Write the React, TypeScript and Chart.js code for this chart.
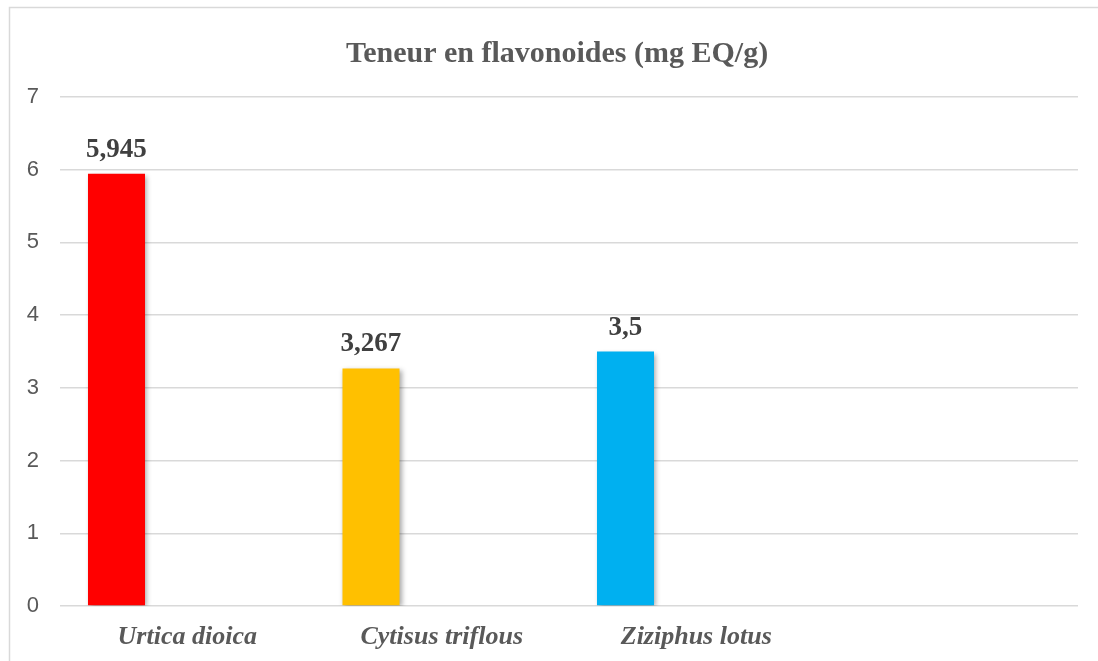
import React, { useEffect, useRef } from "react";
import { Chart, registerables } from "chart.js";

Chart.register(...registerables);

const categories = ["Urtica dioica", "Cytisus triflous", "Ziziphus lotus", ""];
const values = [5.945, 3.267, 3.5, null];
const valueLabels = ["5,945", "3,267", "3,5", ""];
const barColors = ["#FF0000", "#FFC000", "#00B0F0", "#FFFFFF"];
const yTicks = [0, 1, 2, 3, 4, 5, 6, 7];
const titleText = "Teneur en flavonoides (mg EQ/g)";

const framePlugin = {
  id: "frame",
  beforeDraw(chart: any) {
    const ctx = chart.ctx;
    ctx.save();
    ctx.fillStyle = "#ffffff";
    ctx.fillRect(0, 0, chart.width, chart.height);
    ctx.strokeStyle = "#D9D9D9";
    ctx.lineWidth = 1.5;
    ctx.beginPath();
    ctx.moveTo(9.5, chart.height);
    ctx.lineTo(9.5, 7.5);
    ctx.lineTo(chart.width, 7.5);
    ctx.stroke();
    ctx.font = "bold 30px 'Liberation Serif', 'Times New Roman', serif";
    ctx.fillStyle = "#595959";
    ctx.textAlign = "center";
    ctx.textBaseline = "alphabetic";
    ctx.fillText(titleText, 557, 62);
    ctx.restore();
  },
};

const shadowPlugin = {
  id: "barShadow",
  beforeDatasetsDraw(chart: any) {
    const ctx = chart.ctx;
    ctx.save();
    ctx.shadowColor = "rgba(0,0,0,0.35)";
    ctx.shadowBlur = 5;
    ctx.shadowOffsetX = 2;
    ctx.shadowOffsetY = 2;
  },
  afterDatasetsDraw(chart: any) {
    chart.ctx.restore();
  },
};

const labelPlugin = {
  id: "valueLabels",
  afterDatasetsDraw(chart: any) {
    const ctx = chart.ctx;
    const meta = chart.getDatasetMeta(0);
    ctx.save();
    ctx.font = "bold 27px 'Liberation Serif', 'Times New Roman', serif";
    ctx.fillStyle = "#404040";
    ctx.textAlign = "center";
    ctx.textBaseline = "alphabetic";
    meta.data.forEach((bar: any, i: number) => {
      if (values[i] == null) return;
      ctx.fillText(valueLabels[i], bar.x, bar.y - 17);
    });
    ctx.restore();
  },
};

export default function App() {
  const ref = useRef<HTMLCanvasElement | null>(null);
  useEffect(() => {
    if (!ref.current) return;
    const chart = new Chart(ref.current, {
      type: "bar",
      data: {
        labels: categories,
        datasets: [
          {
            data: values,
            backgroundColor: barColors,
            borderWidth: 0,
            barPercentage: 0.806,
            categoryPercentage: 0.834,
          },
          {
            data: [null, null, null, null],
            barPercentage: 0.806,
            categoryPercentage: 0.834,
          },
          {
            data: [null, null, null, null],
            barPercentage: 0.806,
            categoryPercentage: 0.834,
          },
        ],
      },
      options: {
        animation: false,
        responsive: false,
        maintainAspectRatio: false,
        layout: { padding: { top: 97, right: 20, left: 0, bottom: 0 } },
        plugins: {
          legend: { display: false },
          tooltip: { enabled: false },
          title: { display: false },
        },
        scales: {
          x: {
            grid: { display: false, drawTicks: false },
            border: { display: false },
            ticks: {
              color: "#595959",
              padding: 16,
              font: {
                family: "'Liberation Serif', 'Times New Roman', serif",
                size: 26,
                style: "italic",
                weight: "bold",
              },
            },
            afterFit(scale: any) {
              scale.height = 55;
            },
          },
          y: {
            min: 0,
            max: 7,
            afterBuildTicks(scale: any) {
              scale.ticks = yTicks.map((v) => ({ value: v }));
            },
            grid: { color: "#D9D9D9", lineWidth: 1.5, drawTicks: false },
            border: { display: false },
            ticks: {
              color: "#595959",
              padding: 21,
              font: { family: "'Liberation Sans', Arial, sans-serif", size: 22 },
            },
            afterFit(scale: any) {
              scale.width = 60;
            },
          },
        },
      },
      plugins: [framePlugin, shadowPlugin, labelPlugin],
    });
    return () => chart.destroy();
  }, []);
  return (
    <div style={{ position: "fixed", left: 0, top: 0, width: 1098, height: 661 }}>
      <canvas ref={ref} width={1098} height={661} style={{ display: "block" }} />
    </div>
  );
}
